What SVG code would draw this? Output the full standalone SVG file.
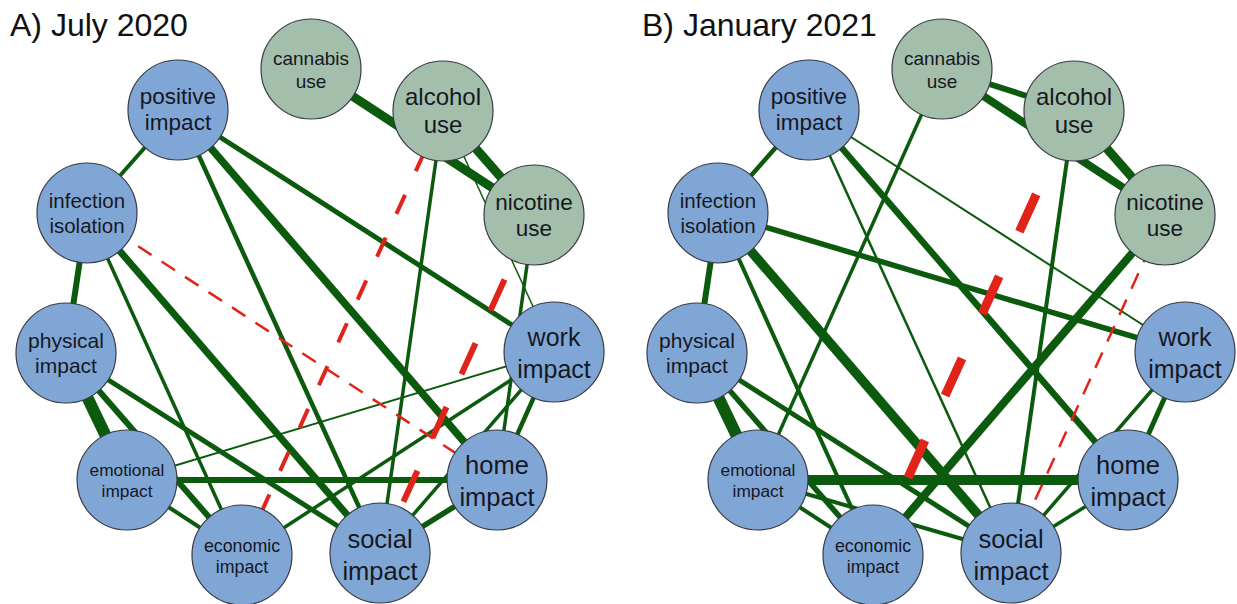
<svg xmlns="http://www.w3.org/2000/svg" width="1237" height="604" viewBox="0 0 1237 604">
<style>
  .bg{fill:#ffffff}
  .connectors line{fill:none;stroke-linecap:butt}
  .g{stroke:#0b5a0e}
  .r{stroke:#e2231a}
  .rr{stroke:#e2231a;stroke-linecap:round}
  .blue circle{fill:#80a6d6;stroke:#383b44;stroke-width:1.2}
  .green circle{fill:#a3bfac;stroke:#383b44;stroke-width:1.2}
  text{font-family:"Liberation Sans",Arial,sans-serif;fill:#16181f;text-anchor:middle}
  .title{text-anchor:start;font-size:32px;fill:#111111}
</style>
<rect class="bg" x="0" y="0" width="1237" height="604"/>
<text class="title" x="10" y="36">A) July 2020</text>
<text class="title" x="642" y="36">B) January 2021</text>

<g id="panelA">
  <g id="connectorsA" class="connectors">
    <line class="g" x1="311" y1="69" x2="534" y2="215" stroke-width="9"/>
    <line class="g" x1="443" y1="111" x2="534" y2="215" stroke-width="9"/>
    <line class="g" x1="443" y1="111" x2="554" y2="352" stroke-width="1.5"/>
    <line class="g" x1="443" y1="111" x2="380" y2="553" stroke-width="3.5"/>
    <line class="g" x1="178" y1="110" x2="87" y2="213" stroke-width="4"/>
    <line class="g" x1="178" y1="110" x2="380" y2="553" stroke-width="4.5"/>
    <line class="g" x1="178" y1="110" x2="497" y2="480" stroke-width="7.5"/>
    <line class="g" x1="178" y1="110" x2="554" y2="352" stroke-width="5"/>
    <line class="g" x1="87" y1="213" x2="66" y2="353" stroke-width="6"/>
    <line class="g" x1="87" y1="213" x2="242" y2="555" stroke-width="3.5"/>
    <line class="g" x1="87" y1="213" x2="380" y2="553" stroke-width="7"/>
    <line class="g" x1="66" y1="353" x2="127" y2="480" stroke-width="12"/>
    <line class="g" x1="66" y1="353" x2="242" y2="555" stroke-width="6"/>
    <line class="g" x1="66" y1="353" x2="380" y2="553" stroke-width="5"/>
    <line class="g" x1="127" y1="480" x2="554" y2="352" stroke-width="2"/>
    <line class="g" x1="127" y1="480" x2="497" y2="480" stroke-width="6"/>
    <line class="g" x1="127" y1="480" x2="242" y2="555" stroke-width="4"/>
    <line class="g" x1="242" y1="555" x2="554" y2="352" stroke-width="3.5"/>
    <line class="g" x1="380" y1="553" x2="554" y2="352" stroke-width="3.5"/>
    <line class="g" x1="380" y1="553" x2="497" y2="480" stroke-width="5.5"/>
    <line class="g" x1="534" y1="215" x2="497" y2="480" stroke-width="3.5"/>
    <line class="g" x1="554" y1="352" x2="497" y2="480" stroke-width="4.5"/>
    <line class="r" x1="87" y1="213" x2="497" y2="480" stroke-width="2.5" stroke-dasharray="16 12" stroke-dashoffset="-5"/>
    <line class="rr" x1="443" y1="111" x2="242" y2="555" stroke-width="4" stroke-dasharray="21 26" stroke-dashoffset="-45"/>
    <line class="rr" x1="534" y1="215" x2="380" y2="553" stroke-width="6" stroke-dasharray="34 36" stroke-dashoffset="-1"/>
  </g>
  <g id="A-cannabis" class="green"><circle cx="311" cy="69" r="50"/><text x="311" y="65" font-size="19">cannabis</text><text x="311" y="88" font-size="19">use</text></g>
  <g id="A-positive" class="blue"><circle cx="178" cy="110" r="50"/><text x="178" y="104" font-size="22.5">positive</text><text x="178" y="130" font-size="22.5">impact</text></g>
  <g id="A-alcohol" class="green"><circle cx="443" cy="111" r="50"/><text x="443" y="105" font-size="24">alcohol</text><text x="443" y="133" font-size="24">use</text></g>
  <g id="A-infection" class="blue"><circle cx="87" cy="213" r="50"/><text x="87" y="208" font-size="20.5">infection</text><text x="87" y="233" font-size="20.5">isolation</text></g>
  <g id="A-nicotine" class="green"><circle cx="534" cy="215" r="50"/><text x="534" y="210" font-size="22.5">nicotine</text><text x="534" y="236" font-size="22.5">use</text></g>
  <g id="A-physical" class="blue"><circle cx="66" cy="353" r="50"/><text x="66" y="348" font-size="21">physical</text><text x="66" y="373" font-size="21">impact</text></g>
  <g id="A-work" class="blue"><circle cx="554" cy="352" r="50"/><text x="554" y="346" font-size="25">work</text><text x="554" y="378" font-size="25">impact</text></g>
  <g id="A-emotional" class="blue"><circle cx="127" cy="480" r="50"/><text x="127" y="476" font-size="17.3">emotional</text><text x="127" y="497" font-size="17.3">impact</text></g>
  <g id="A-home" class="blue"><circle cx="497" cy="480" r="50"/><text x="497" y="474" font-size="25.5">home</text><text x="497" y="506" font-size="25.5">impact</text></g>
  <g id="A-economic" class="blue"><circle cx="242" cy="555" r="50"/><text x="242" y="552" font-size="17.8">economic</text><text x="242" y="573" font-size="17.8">impact</text></g>
  <g id="A-social" class="blue"><circle cx="380" cy="553" r="50"/><text x="380" y="548" font-size="25.5">social</text><text x="380" y="580" font-size="25.5">impact</text></g>
</g>

<g id="panelB" transform="translate(631,0)">
  <g id="connectorsB" class="connectors">
    <line class="g" x1="311" y1="69" x2="443" y2="111" stroke-width="6"/>
    <line class="g" x1="311" y1="69" x2="534" y2="215" stroke-width="8"/>
    <line class="g" x1="443" y1="111" x2="534" y2="215" stroke-width="9"/>
    <line class="g" x1="311" y1="69" x2="127" y2="480" stroke-width="3.5"/>
    <line class="g" x1="178" y1="110" x2="87" y2="213" stroke-width="4.5"/>
    <line class="g" x1="178" y1="110" x2="380" y2="553" stroke-width="2.5"/>
    <line class="g" x1="178" y1="110" x2="497" y2="480" stroke-width="6.5"/>
    <line class="g" x1="178" y1="110" x2="554" y2="352" stroke-width="2"/>
    <line class="g" x1="87" y1="213" x2="66" y2="353" stroke-width="6"/>
    <line class="g" x1="87" y1="213" x2="242" y2="555" stroke-width="4"/>
    <line class="g" x1="87" y1="213" x2="380" y2="553" stroke-width="9.5"/>
    <line class="g" x1="87" y1="213" x2="554" y2="352" stroke-width="5.5"/>
    <line class="g" x1="443" y1="111" x2="380" y2="553" stroke-width="4"/>
    <line class="g" x1="534" y1="215" x2="242" y2="555" stroke-width="8"/>
    <line class="g" x1="66" y1="353" x2="127" y2="480" stroke-width="12"/>
    <line class="g" x1="66" y1="353" x2="242" y2="555" stroke-width="5.5"/>
    <line class="g" x1="66" y1="353" x2="380" y2="553" stroke-width="5"/>
    <line class="g" x1="127" y1="480" x2="497" y2="480" stroke-width="10"/>
    <line class="g" x1="127" y1="480" x2="242" y2="555" stroke-width="4"/>
    <line class="g" x1="127" y1="480" x2="380" y2="553" stroke-width="4"/>
    <line class="g" x1="554" y1="352" x2="497" y2="480" stroke-width="5"/>
    <line class="g" x1="554" y1="352" x2="380" y2="553" stroke-width="3.5"/>
    <line class="g" x1="380" y1="553" x2="497" y2="480" stroke-width="3.5"/>
    <line class="rr" x1="443" y1="111" x2="242" y2="555" stroke-width="9" stroke-dasharray="41 49" stroke-dashoffset="-1.5"/>
    <line class="r" x1="534" y1="215" x2="380" y2="553" stroke-width="2.5" stroke-dasharray="17 12" stroke-dashoffset="-6"/>
  </g>
  <g id="B-cannabis" class="green"><circle cx="311" cy="69" r="50"/><text x="311" y="65" font-size="19">cannabis</text><text x="311" y="88" font-size="19">use</text></g>
  <g id="B-positive" class="blue"><circle cx="178" cy="110" r="50"/><text x="178" y="104" font-size="22.5">positive</text><text x="178" y="130" font-size="22.5">impact</text></g>
  <g id="B-alcohol" class="green"><circle cx="443" cy="111" r="50"/><text x="443" y="105" font-size="24">alcohol</text><text x="443" y="133" font-size="24">use</text></g>
  <g id="B-infection" class="blue"><circle cx="87" cy="213" r="50"/><text x="87" y="208" font-size="20.5">infection</text><text x="87" y="233" font-size="20.5">isolation</text></g>
  <g id="B-nicotine" class="green"><circle cx="534" cy="215" r="50"/><text x="534" y="210" font-size="22.5">nicotine</text><text x="534" y="236" font-size="22.5">use</text></g>
  <g id="B-physical" class="blue"><circle cx="66" cy="353" r="50"/><text x="66" y="348" font-size="21">physical</text><text x="66" y="373" font-size="21">impact</text></g>
  <g id="B-work" class="blue"><circle cx="554" cy="352" r="50"/><text x="554" y="346" font-size="25">work</text><text x="554" y="378" font-size="25">impact</text></g>
  <g id="B-emotional" class="blue"><circle cx="127" cy="480" r="50"/><text x="127" y="476" font-size="17.3">emotional</text><text x="127" y="497" font-size="17.3">impact</text></g>
  <g id="B-home" class="blue"><circle cx="497" cy="480" r="50"/><text x="497" y="474" font-size="25.5">home</text><text x="497" y="506" font-size="25.5">impact</text></g>
  <g id="B-economic" class="blue"><circle cx="242" cy="555" r="50"/><text x="242" y="552" font-size="17.8">economic</text><text x="242" y="573" font-size="17.8">impact</text></g>
  <g id="B-social" class="blue"><circle cx="380" cy="553" r="50"/><text x="380" y="548" font-size="25.5">social</text><text x="380" y="580" font-size="25.5">impact</text></g>
</g>
</svg>
